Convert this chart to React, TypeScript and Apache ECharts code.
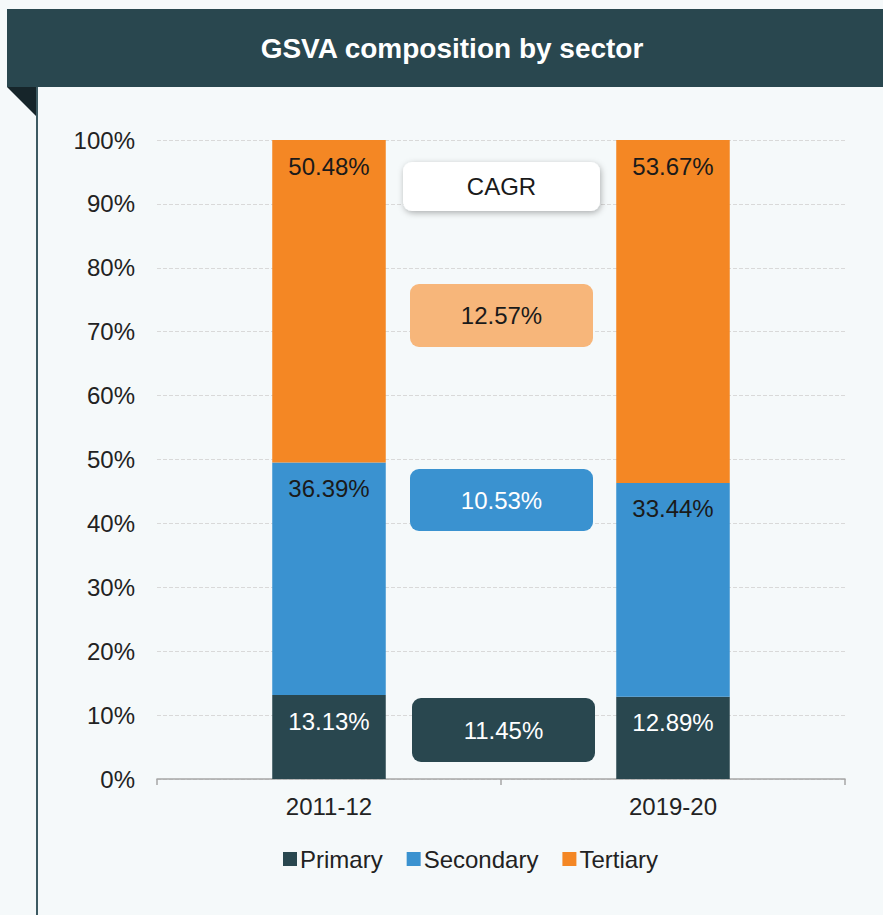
import React, { useEffect, useRef } from "react";
import * as echarts from "echarts";

const categories = ["2011-12", "2019-20"];
const primary = [13.13, 12.89];
const secondary = [36.39, 33.44];
const tertiary = [50.48, 53.67];
const yTicks = [0, 10, 20, 30, 40, 50, 60, 70, 80, 90, 100];
const cagrLabels = ["CAGR", "12.57%", "10.53%", "11.45%"];

const FONT = "'Liberation Sans', Arial, sans-serif";
const FS = 24;
const C_PRIMARY = "#29474f";
const C_SECONDARY = "#3a92d0";
const C_TERTIARY = "#f48724";

export default function App() {
  const ref = useRef<HTMLDivElement>(null);
  useEffect(() => {
    if (!ref.current) return;
    const chart = echarts.init(ref.current, null, { renderer: "svg" });
    const label = (color: string) => ({
      show: true,
      position: "insideTop",
      distance: 14,
      color,
      fontSize: FS,
      fontFamily: FONT,
      formatter: (p: any) => p.value.toFixed(2) + "%",
    });
    const box = (
      x: number,
      y: number,
      w: number,
      h: number,
      fill: string,
      text: string,
      textColor: string,
      shadow = false
    ) => ({
      type: "group",
      z: 100,
      children: [
        {
          type: "rect",
          z: 100,
          shape: { x, y, width: w, height: h, r: 9 },
          style: shadow
            ? {
                fill,
                shadowBlur: 6,
                shadowColor: "rgba(0,0,0,0.3)",
                shadowOffsetY: 2,
                shadowOffsetX: 1,
              }
            : { fill },
        },
        {
          type: "text",
          z: 101,
          x: x + w / 2,
          y: y + h / 2,
          style: {
            text,
            fill: textColor,
            fontSize: FS,
            fontFamily: FONT,
            align: "center",
            verticalAlign: "middle",
          },
        },
      ],
    });
    chart.setOption({
      animation: false,
      backgroundColor: "#f5f9fa",
      grid: { left: 157, right: 38, top: 140, bottom: 136 },
      legend: {
        data: ["Primary", "Secondary", "Tertiary"],
        left: 278,
        top: 842,
        icon: "rect",
        itemWidth: 14,
        itemHeight: 14,
        itemGap: 24,
        textStyle: { fontSize: FS, color: "#222", fontFamily: FONT, padding: [0, 0, 0, -2] },
      },
      xAxis: {
        type: "category",
        data: categories,
        axisLine: { lineStyle: { color: "#a6a6a6", width: 1.5 } },
        axisTick: { show: true, length: 6, lineStyle: { color: "#a6a6a6", width: 1.5 } },
        axisLabel: { fontSize: FS, color: "#222", fontFamily: FONT, margin: 15 },
      },
      yAxis: {
        type: "value",
        min: yTicks[0],
        max: yTicks[yTicks.length - 1],
        interval: 10,
        axisLine: { show: false },
        axisTick: { show: false },
        axisLabel: {
          fontSize: FS,
          color: "#222",
          fontFamily: FONT,
          margin: 22,
          formatter: "{value}%",
        },
        splitLine: { lineStyle: { color: "#d9d9d9", type: "dashed" } },
      },
      series: [
        {
          name: "Primary",
          type: "bar",
          stack: "total",
          barWidth: "33%",
          data: primary,
          itemStyle: { color: C_PRIMARY },
          label: label("#ffffff"),
        },
        {
          name: "Secondary",
          type: "bar",
          stack: "total",
          data: secondary,
          itemStyle: { color: C_SECONDARY },
          label: label("#1a1a1a"),
        },
        {
          name: "Tertiary",
          type: "bar",
          stack: "total",
          data: tertiary,
          itemStyle: { color: C_TERTIARY },
          label: label("#1a1a1a"),
        },
      ],
      graphic: [
        { type: "rect", shape: { x: 7, y: 9, width: 876, height: 78 }, style: { fill: "#29474f" } },
        {
          type: "text",
          x: 452,
          y: 48,
          style: {
            text: "GSVA composition by sector",
            fill: "#ffffff",
            fontSize: 28,
            fontWeight: "bold",
            fontFamily: FONT,
            align: "center",
            verticalAlign: "middle",
          },
        },
        {
          type: "polygon",
          shape: { points: [[7, 87], [38, 87], [38, 118]] },
          style: { fill: "#16252a" },
        },
        {
          type: "line",
          shape: { x1: 37, y1: 87, x2: 37, y2: 915 },
          style: { stroke: "#3d5a62", lineWidth: 2 },
        },
        box(403, 162, 197, 49, "#ffffff", cagrLabels[0], "#1a1a1a", true),
        box(410, 284, 183, 63, "#f7b67a", cagrLabels[1], "#1a1a1a"),
        box(410, 469, 183, 62, C_SECONDARY, cagrLabels[2], "#ffffff"),
        box(412, 698, 183, 64, C_PRIMARY, cagrLabels[3], "#ffffff"),
      ],
    });
    return () => chart.dispose();
  }, []);
  return (
    <div
      ref={ref}
      style={{ position: "absolute", left: 0, top: 0, width: 883, height: 915 }}
    />
  );
}
